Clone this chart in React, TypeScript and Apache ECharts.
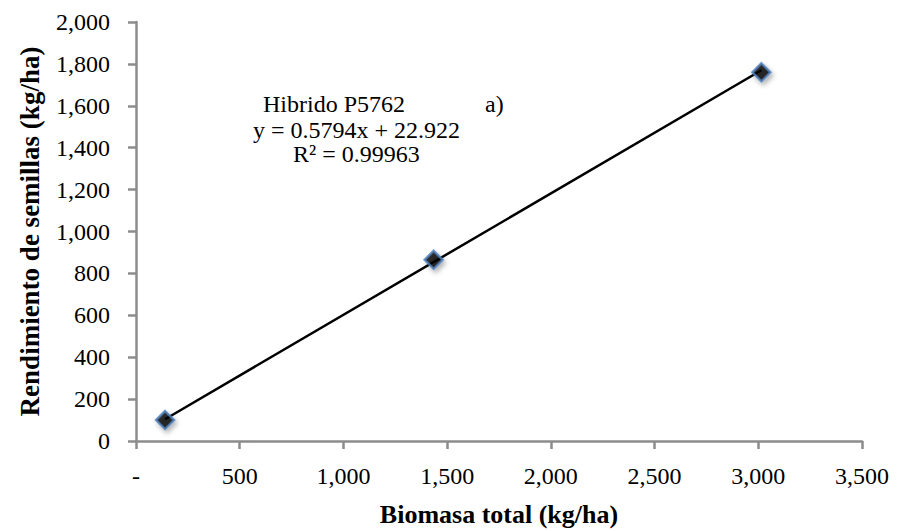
import React, { useEffect, useRef } from "react";
import * as echarts from "echarts";

const biomasa = [140, 1435, 3015];
const rendimiento = [100, 865, 1760];
const slope = 0.5794;
const intercept = 22.922;
const xTicks = [0, 500, 1000, 1500, 2000, 2500, 3000, 3500];
const yTicks = [0, 200, 400, 600, 800, 1000, 1200, 1400, 1600, 1800, 2000];
const labelHibrido = "Hibrido P5762";
const labelPanel = "a)";
const labelEq = "y = 0.5794x + 22.922";
const labelR2 = "R² = 0.99963";

const fmt = (v: number) => v.toLocaleString("en-US");
const FONT = "Liberation Serif";

export default function App() {
  const ref = useRef<HTMLDivElement>(null);
  useEffect(() => {
    if (!ref.current) return;
    const chart = echarts.init(ref.current, null, { renderer: "svg" });
    const pts = biomasa.map((x, i) => [x, rendimiento[i]]);
    const x0 = biomasa[0];
    const x1 = biomasa[biomasa.length - 1];
    const trend = [
      [x0, slope * x0 + intercept],
      [x1, slope * x1 + intercept],
    ];
    const axisColor = "#8c8c8c";
    const txt = (text: string, left: number, top: number) => ({
      type: "text",
      left,
      top,
      style: { text, fontFamily: FONT, fontSize: 24, fill: "#000" },
    });
    chart.setOption({
      animation: false,
      backgroundColor: "#ffffff",
      textStyle: { fontFamily: FONT },
      grid: { left: 123, right: 43, top: 14, bottom: 98, containLabel: false },
      xAxis: {
        type: "value",
        min: xTicks[0],
        max: xTicks[xTicks.length - 1],
        interval: 500,
        name: "Biomasa total (kg/ha)",
        nameLocation: "middle",
        nameGap: 60,
        nameTextStyle: { fontFamily: FONT, fontSize: 26, fontWeight: "bold", color: "#000" },
        axisLine: { show: true, lineStyle: { color: axisColor, width: 2.5 } },
        axisTick: { show: true, inside: false, length: 8, lineStyle: { color: axisColor, width: 2.5 } },
        splitLine: { show: false },
        axisLabel: {
          fontFamily: FONT,
          fontSize: 24,
          color: "#000",
          margin: 23,
          formatter: (v: number) => (v === 0 ? "-" : fmt(v)),
        },
      },
      yAxis: {
        type: "value",
        min: yTicks[0],
        max: yTicks[yTicks.length - 1],
        interval: 200,
        name: "Rendimiento de semillas (kg/ha)",
        nameLocation: "middle",
        nameGap: 93,
        nameRotate: 90,
        nameTextStyle: { fontFamily: FONT, fontSize: 27, fontWeight: "bold", color: "#000" },
        axisLine: { show: true, lineStyle: { color: axisColor, width: 2.5 } },
        axisTick: { show: true, inside: false, length: 8, lineStyle: { color: axisColor, width: 2.5 } },
        splitLine: { show: false },
        axisLabel: {
          fontFamily: FONT,
          fontSize: 24,
          color: "#000",
          margin: 26,
          formatter: (v: number) => fmt(v),
        },
      },
      series: [
        {
          type: "line",
          data: trend,
          symbol: "none",
          lineStyle: { color: "#000", width: 2.5 },
          z: 2,
        },
        {
          type: "scatter",
          data: pts,
          symbol: "diamond",
          symbolSize: 18,
          itemStyle: {
            color: "#000",
            borderColor: "#4f81bd",
            borderWidth: 2.5,
            shadowBlur: 5,
            shadowColor: "rgba(0,0,0,0.35)",
            shadowOffsetX: 2,
            shadowOffsetY: 3,
          },
          z: 3,
        },
      ],
      graphic: [
        txt(labelHibrido, 255, 84),
        txt(labelPanel, 477, 84),
        txt(labelEq, 245, 110),
        txt(labelR2, 285, 134),
      ],
    });
    return () => chart.dispose();
  }, []);
  return <div ref={ref} style={{ width: 897, height: 531 }} />;
}
